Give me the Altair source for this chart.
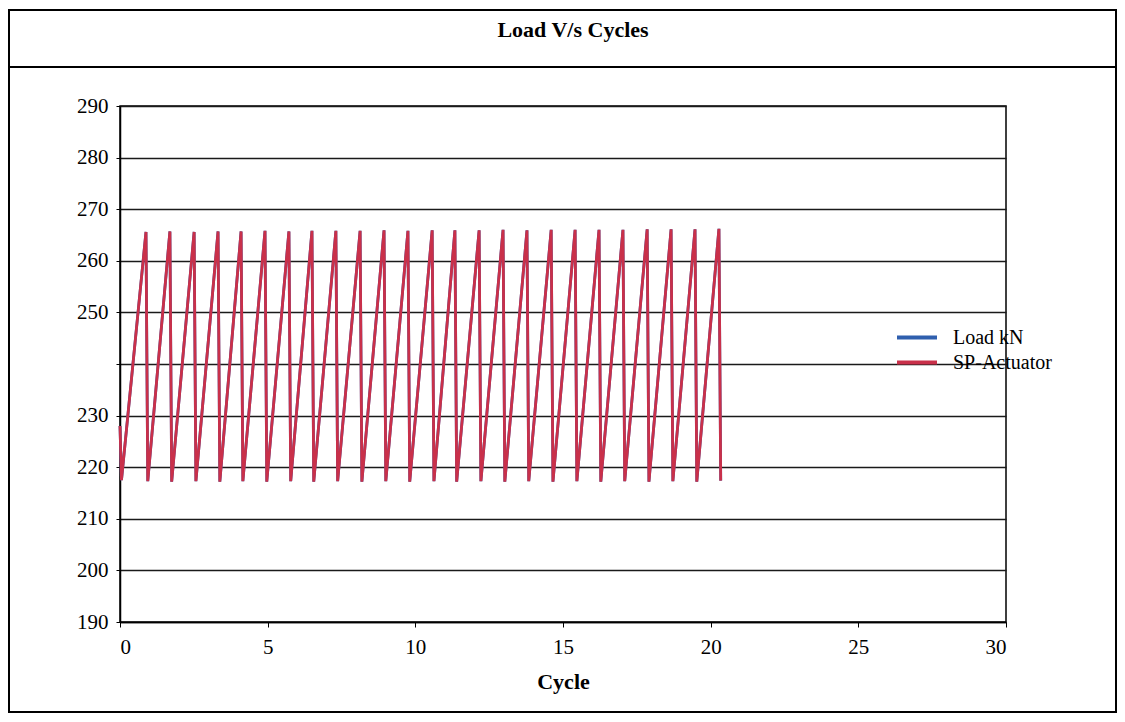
import altair as alt
import pandas as pd

# ---- data ----
start_x = [0.0, 0.05]
start_y = [228.0, 217.5]
peak_x = [0.88, 1.69, 2.51, 3.32, 4.10, 4.91, 5.72, 6.50, 7.31, 8.13, 8.94, 9.75,
          10.57, 11.34, 12.16, 12.97, 13.78, 14.60, 15.41, 16.22, 17.03, 17.85,
          18.66, 19.47, 20.28]
peak_y = [265.6, 265.7, 265.6, 265.7, 265.7, 265.8, 265.7, 265.8, 265.8, 265.8,
          265.9, 265.8, 265.9, 265.9, 265.9, 266.0, 265.9, 266.0, 266.0, 266.0,
          266.0, 266.1, 266.1, 266.1, 266.2]
trough_x = [0.94, 1.75, 2.57, 3.38, 4.16, 4.97, 5.78, 6.56, 7.37, 8.19, 9.00, 9.81,
            10.63, 11.40, 12.22, 13.03, 13.84, 14.66, 15.47, 16.28, 17.09, 17.91,
            18.72, 19.53, 20.34]
trough_y = [217.3, 217.2, 217.3, 217.2, 217.3, 217.2, 217.3, 217.2, 217.3, 217.2,
            217.3, 217.2, 217.3, 217.2, 217.3, 217.2, 217.3, 217.2, 217.3, 217.2,
            217.3, 217.2, 217.3, 217.2, 217.4]
series_names = ["Load kN", "SP-Actuator"]
series_colors = ["#2f5fae", "#c9304a"]
y_ticks = [190, 200, 210, 220, 230, 240, 250, 260, 270, 280, 290]
x_ticks = [0, 5, 10, 15, 20, 25, 30]
chart_title = "Load V/s Cycles"

xs = list(start_x)
ys = list(start_y)
for px, py, tx, ty in zip(peak_x, peak_y, trough_x, trough_y):
    xs += [px, tx]
    ys += [py, ty]

rows = []
for s in series_names:
    for i, (x, y) in enumerate(zip(xs, ys)):
        rows.append({"series": s, "idx": i, "Cycle": x, "Load": y})
df = pd.DataFrame(rows)
one = alt.Data(values=[{"k": 1}])

FONT = "Liberation Serif"
W, H = 886, 516

lines = alt.Chart(df).mark_line(strokeWidth=2.8).encode(
    x=alt.X("Cycle:Q", scale=alt.Scale(domain=[0, 30], nice=False),
            axis=alt.Axis(values=x_ticks, title="Cycle", grid=False,
                          tickSize=5, labelPadding=9, titlePadding=14,
                          labelFontSize=21, titleFontSize=22,
                          titleFontWeight="bold")),
    y=alt.Y("Load:Q", scale=alt.Scale(domain=[190, 290], nice=False),
            axis=alt.Axis(values=y_ticks, title=None, tickSize=4,
                          labelPadding=8, labelFontSize=21,
                          labelExpr="datum.value == 240 ? '' : datum.label")),
    color=alt.Color("series:N",
                    scale=alt.Scale(domain=series_names, range=series_colors),
                    legend=alt.Legend(title=None, orient="none",
                                      legendX=775, legendY=219,
                                      symbolType="stroke", symbolSize=1600,
                                      symbolStrokeWidth=4, labelFontSize=20,
                                      labelOffset=14, rowPadding=0,
                                      clipHeight=25, padding=0)),
    order=alt.Order("idx:Q"),
)

frame = alt.Chart(one).mark_rect(fill=None, stroke="black", strokeWidth=2).encode(
    x=alt.value(-111), x2=alt.value(996), y=alt.value(-96), y2=alt.value(606))
sep = alt.Chart(one).mark_rule(color="black", strokeWidth=2).encode(
    x=alt.value(-111), x2=alt.value(996), y=alt.value(-39))
title = alt.Chart(one).mark_text(font=FONT, fontSize=22, fontWeight="bold",
                                 color="black", baseline="middle").encode(
    x=alt.value(453), y=alt.value(-76), text=alt.value(chart_title))

chart = alt.layer(lines, frame, sep, title).properties(
    width=W, height=H,
    autosize=alt.AutoSizeParams(type="none"),
    padding={"left": 112, "top": 98, "right": 111, "bottom": 92},
).configure_view(stroke="black", strokeWidth=1.5).configure_axis(
    labelFont=FONT, titleFont=FONT, labelColor="black", titleColor="black",
    domainColor="black", tickColor="black", gridColor="#1a1a1a",
    gridWidth=1.4, domainWidth=1.5,
).configure_legend(labelFont=FONT, labelColor="black")

chart.save("out.html", embed_options={"renderer": "svg", "actions": False})
